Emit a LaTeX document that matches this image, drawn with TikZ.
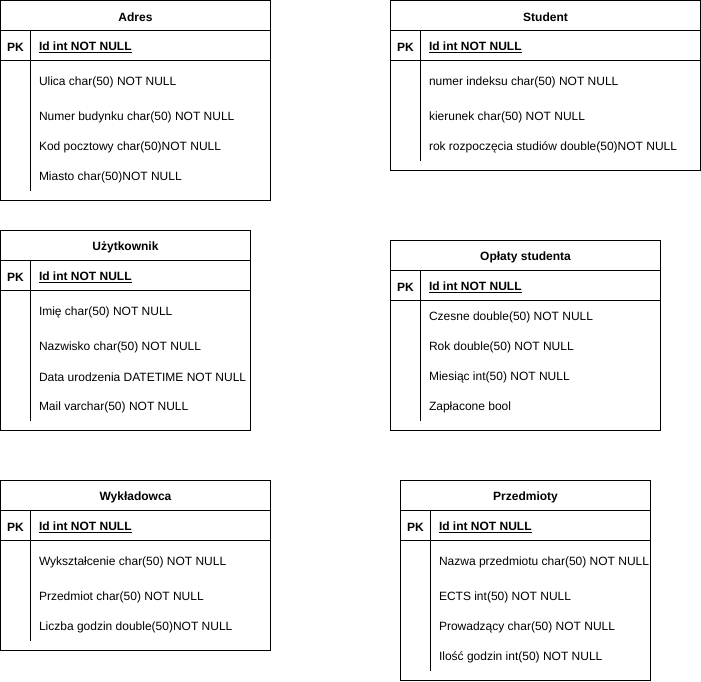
\documentclass[tikz,border=0pt]{standalone}
\usepackage{fontspec}
\setmainfont{Liberation Sans}

\begin{document}
\begin{tikzpicture}[x=1pt, y=-1pt, line width=1pt, font=\fontsize{12}{14}\selectfont,
    every node/.style={yshift=-1.5pt},
    title/.style={font=\fontsize{12}{14}\selectfont\bfseries},
    pk/.style={font=\fontsize{12}{14}\selectfont\bfseries},
    idrow/.style={anchor=west, inner sep=0pt, font=\fontsize{12}{14}\selectfont\bfseries},
    field/.style={anchor=west, inner sep=0pt}]
    \useasboundingbox (-0.5,-0.5) rectangle (700.5,680.5);
    %tabela Adres
    \draw (0,0) rectangle (270,200);
    \draw (0,30) -- (270,30) (0,60) -- (270,60) (30,30) -- (30,190);
    \node[title] at (135,15) (adres){Adres};
    \node[pk] at (15,45) (adresPK){PK};
    \node[idrow] at (38,45) (adresId){\underline{Id int NOT NULL}};
    \foreach \y/\t [count=\i] in {80/Ulica char(50) NOT NULL, 115/Numer budynku char(50) NOT NULL,
        145/Kod pocztowy char(50)NOT NULL, 175/Miasto char(50)NOT NULL}
      \node[field] at (38,\y) (adres\i){\t};
    %tabela Student
    \draw (390,0) rectangle (700,170);
    \draw (390,30) -- (700,30) (390,60) -- (700,60) (420,30) -- (420,160);
    \node[title] at (545,15) (student){Student};
    \node[pk] at (405,45) (studentPK){PK};
    \node[idrow] at (428,45) (studentId){\underline{Id int NOT NULL}};
    \foreach \y/\t [count=\i] in {80/numer indeksu char(50) NOT NULL, 115/kierunek char(50) NOT NULL,
        145/rok rozpoczęcia studiów double(50)NOT NULL}
      \node[field] at (428,\y) (student\i){\t};
    %tabela Użytkownik
    \draw (0,230) rectangle (250,430);
    \draw (0,260) -- (250,260) (0,290) -- (250,290) (30,260) -- (30,420);
    \node[title] at (125,245) (uzytkownik){Użytkownik};
    \node[pk] at (15,275) (uzytkownikPK){PK};
    \node[idrow] at (38,275) (uzytkownikId){\underline{Id int NOT NULL}};
    \foreach \y/\t [count=\i] in {310/Imię char(50) NOT NULL, 345/Nazwisko char(50) NOT NULL,
        375/Data urodzenia DATETIME NOT NULL, 405/Mail varchar(50) NOT NULL}
      \node[field] at (38,\y) (uzytkownik\i){\t};
    %tabela Opłaty studenta
    \draw (390,240) rectangle (660,430);
    \draw (390,270) -- (660,270) (390,300) -- (660,300) (420,270) -- (420,420);
    \node[title] at (525,255) (oplaty){Opłaty studenta};
    \node[pk] at (405,285) (oplatyPK){PK};
    \node[idrow] at (428,285) (oplatyId){\underline{Id int NOT NULL}};
    \foreach \y/\t [count=\i] in {315/Czesne double(50) NOT NULL, 345/Rok double(50) NOT NULL,
        375/Miesiąc int(50) NOT NULL, 405/Zapłacone bool}
      \node[field] at (428,\y) (oplaty\i){\t};
    %tabela Wykładowca
    \draw (0,480) rectangle (270,650);
    \draw (0,510) -- (270,510) (0,540) -- (270,540) (30,510) -- (30,640);
    \node[title] at (135,495) (wykladowca){Wykładowca};
    \node[pk] at (15,525) (wykladowcaPK){PK};
    \node[idrow] at (38,525) (wykladowcaId){\underline{Id int NOT NULL}};
    \foreach \y/\t [count=\i] in {560/Wykształcenie char(50) NOT NULL, 595/Przedmiot char(50) NOT NULL,
        625/Liczba godzin double(50)NOT NULL}
      \node[field] at (38,\y) (wykladowca\i){\t};
    %tabela Przedmioty
    \draw (400,480) rectangle (650,680);
    \draw (400,510) -- (650,510) (400,540) -- (650,540) (430,510) -- (430,670);
    \node[title] at (525,495) (przedmioty){Przedmioty};
    \node[pk] at (415,525) (przedmiotyPK){PK};
    \node[idrow] at (438,525) (przedmiotyId){\underline{Id int NOT NULL}};
    \foreach \y/\t [count=\i] in {560/Nazwa przedmiotu char(50) NOT NULL, 595/ECTS int(50) NOT NULL,
        625/Prowadzący char(50) NOT NULL, 655/Ilość godzin int(50) NOT NULL}
      \node[field] at (438,\y) (przedmioty\i){\t};
  \end{tikzpicture}
\end{document}
